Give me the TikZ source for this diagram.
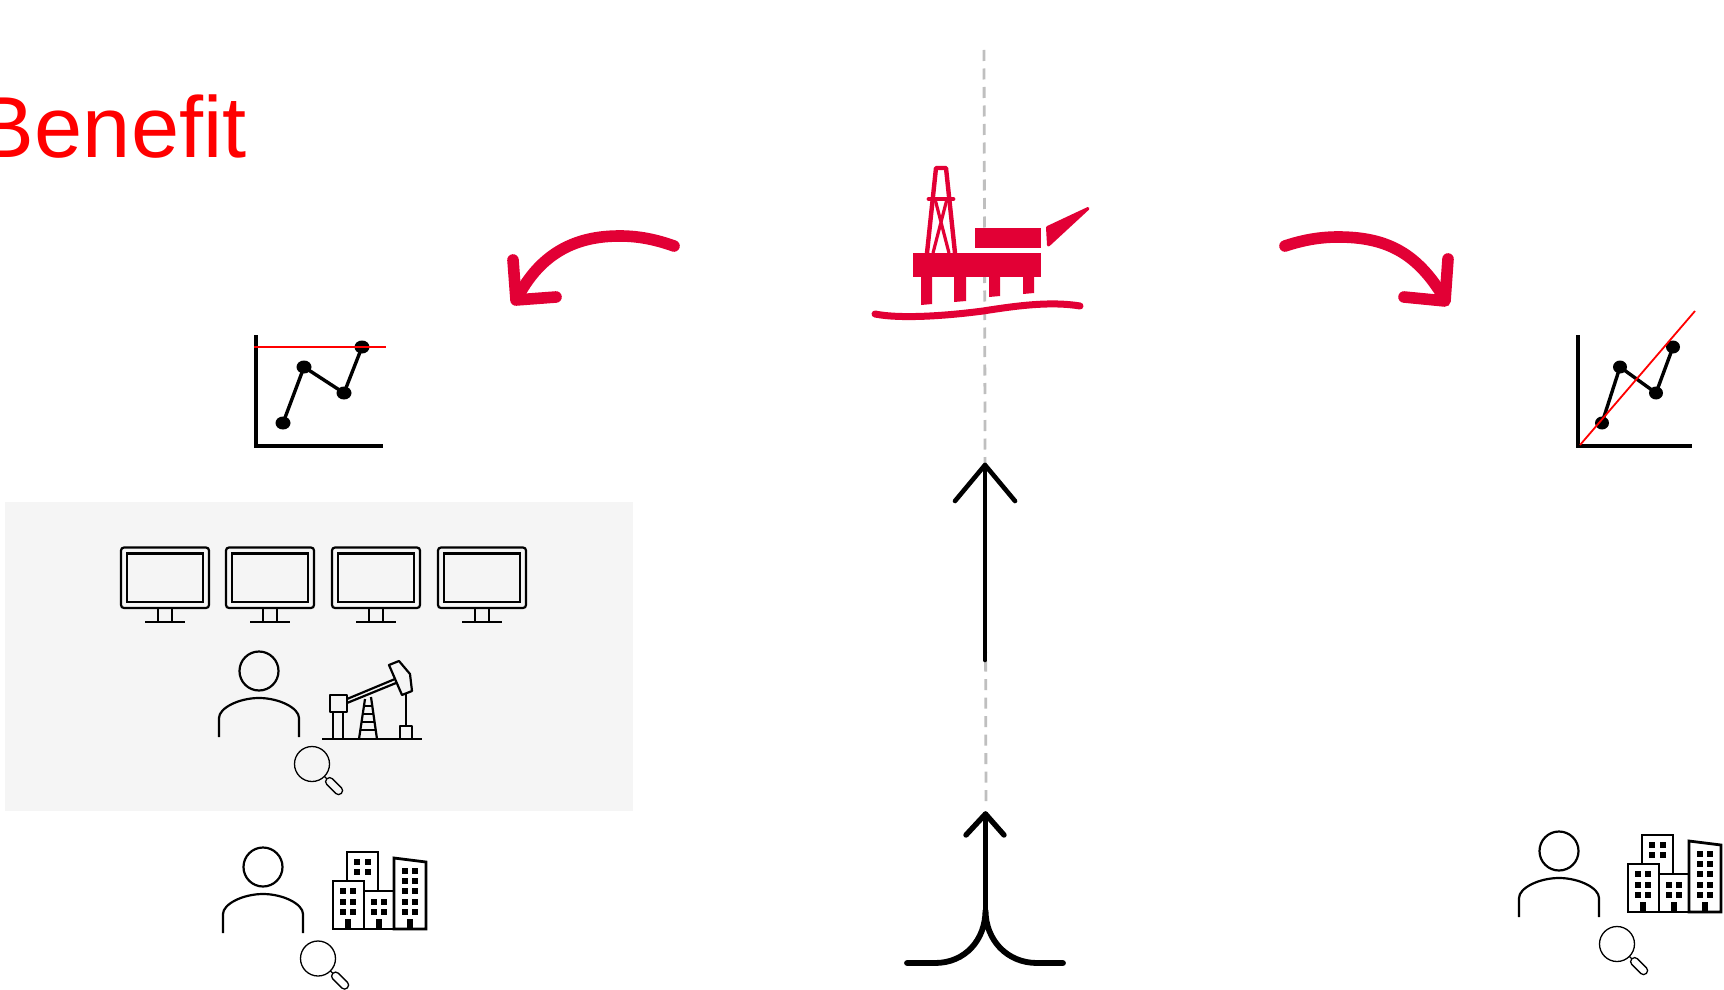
\documentclass[tikz,border=0pt]{standalone}
\usepackage{fontspec}
\setmainfont{Liberation Sans}
\definecolor{rigred}{HTML}{E20035}
\definecolor{panelgrey}{HTML}{F5F5F5}
\definecolor{dashgrey}{HTML}{BFBFBF}
\tikzset{
  ink/.style={line width=1.1pt,black},
  person/.pic={
    \draw[ink] (0,0) circle (19.5);
    \draw[ink] (-40,66) -- (-40,47) .. controls (-40,37) and (-20,27) .. (0,27) .. controls (20,27) and (40,37) .. (40,47) -- (40,66);
  },
  magnifier/.pic={
    \draw[line width=.65pt] (0,0) circle (17.5);
    \begin{scope}[rotate=-45]
      \draw[line width=.65pt] (17.5,0) -- (21,0);
      \draw[line width=.65pt,rounded corners=1.9pt] (21,-4) rectangle (41.5,4);
    \end{scope}
  },
  city/.pic={
    \draw[line width=1.4pt,line join=miter] (14,-48) -- (14,-77) -- (45,-77) -- (45,-38);
    \draw[line width=1.4pt,line join=miter] (0,0) rectangle (31,-48);
    \draw[line width=1.4pt,line join=miter] (31,0) rectangle (61,-38);
    \draw[line width=1.4pt,line join=miter] (61,0) -- (61,-71) -- (93,-67) -- (93,0) -- cycle;
    \foreach \wx/\wy in {10/-38,20/-38,10/-27,20/-27,10/-17,20/-17,
                         24/-67,35/-67,24/-57,35/-57,
                         41/-27,51/-27,41/-17,51/-17,
                         72/-58,82/-58,72/-48,82/-48,72/-38,82/-38,72/-27,82/-27,72/-17,82/-17}
      \fill (\wx-3,\wy-3) rectangle (\wx+3,\wy+3);
    \foreach \wx in {15,46,77}
      \fill (\wx-3,-10) rectangle (\wx+3,0);
  },
  monitor/.pic={
    \draw[ink,rounded corners=1.5pt] (-44,0.5) rectangle (44,61);
    \draw[ink] (-38,6.5) rectangle (38,55);
    \draw[ink] (-7,61) -- (-7,75);
    \draw[ink] (7,61) -- (7,75);
    \draw[ink] (-20,75) -- (20,75);
  }
}
\begin{document}
\begin{tikzpicture}[x=0.5pt,y=-0.5pt]
\useasboundingbox (0,0) rectangle (1724,990);
\fill[white] (0,0) rectangle (1724,990);
\fill[panelgrey] (5,502) rectangle (633,811);

% title
\node[anchor=base east,inner sep=0pt,text=red,font=\fontsize{43.3pt}{50pt}\selectfont] (title) at (247,157) {Benefit};

% centre dashed axis
\coordinate (axistop) at (984,50);
\coordinate (axisbot) at (986,808);
\draw[dashgrey,line width=1.4pt,dash pattern=on 5.5pt off 3.75pt] (axistop) -- (axisbot);

% rig
\begin{scope}[rigred]
  \fill (913,253) rectangle (1041,277);
  \fill (975,228) rectangle (1041,248);
  \filldraw[line join=round,line width=1.5pt] (1047.5,227.5) -- (1088,208.5) -- (1048.5,245) -- cycle;
  \fill (921,277) -- (932,277) -- (932,304) -- (921,305) -- cycle;
  \fill (954,277) -- (966,277) -- (966,301) -- (954,302) -- cycle;
  \fill (989,277) -- (1000,277) -- (1000,296) -- (989,297) -- cycle;
  \fill (1023,277) -- (1034,277) -- (1034,293) -- (1023,294) -- cycle;
  \draw[line width=2.2pt,line join=round] (927,253) -- (936,168) -- (946,168) -- (955,253);
  \draw[line width=1.6pt] (933,253) -- (947,199) (949,253) -- (935,199);
  \draw[line width=2.4pt,line cap=round] (929,199) -- (953,199);
  \draw[line width=3.5pt,line cap=round] (875,314) .. controls (900,319) and (945,316) .. (983,311) .. controls (1015,306) and (1050,301) .. (1080,306);
\end{scope}

% red curved arrows
\begin{scope}[rigred,line width=5.8pt,line cap=round,line join=round]
  \coordinate (lefttail) at (674,246);
  \coordinate (lefttip) at (516,300);
  \draw (lefttail) .. controls (657,240) and (640,236) .. (620,236) .. controls (590,236) and (548,243) .. (520,293);
  \draw (513,260) -- (lefttip) -- (556,297);
  \coordinate (righttail) at (1285,246);
  \coordinate (righttip) at (1445,301);
  \draw (righttail) .. controls (1303,240) and (1320,237) .. (1338,237) .. controls (1385,237) and (1415,252) .. (1441,293);
  \draw (1448,259) -- (righttip) -- (1404,297);
\end{scope}

% left chart
\draw[line width=1.7pt,line join=miter] (256,335) -- (256,446) -- (383,446);
\draw[line width=1.7pt] (283,423) -- (304,367) -- (344,393) -- (362,347);
\foreach \px/\py in {283/423,304/367,344/393,362/347}
  \fill (\px,\py) ellipse (7.5 and 6.5);
\draw[red,line width=.9pt] (254,347) -- (386,347);

% right chart
\draw[line width=1.7pt,line join=miter] (1578,335) -- (1578,446) -- (1692,446);
\draw[line width=1.7pt] (1602,423) -- (1620,367) -- (1656,393) -- (1673,347);
\foreach \px/\py in {1602/423,1620/367,1656/393,1673/347}
  \fill (\px,\py) ellipse (7 and 6.5);
\draw[red,line width=.9pt] (1580,445) -- (1695,311);

% monitors
\pic at (165,547) {monitor};
\pic at (270,547) {monitor};
\pic at (376,547) {monitor};
\pic at (482,547) {monitor};

% operator and pump jack
\pic at (259,671) {person};
\pic at (312,764) {magnifier};
\begin{scope}[ink,line join=round]
  \draw (322,739) -- (422,739);
  \draw (333,712) -- (333,739) (343,712) -- (343,739);
  \draw (330,695) rectangle (347,712);
  \draw (347,699) -- (395,679) (347,703) -- (396,683);
  \draw (389,665) -- (399,661) -- (410,674) -- (412,691) -- (402,695) -- cycle;
  \draw (406,693) -- (406,727);
  \draw (400,726) rectangle (412,739);
  \draw (365,699) -- (359,739) (371,697) -- (377,739);
  \draw (364,706) -- (372,706) (363,714) -- (373,714) (362,722) -- (374,722) (361,730) -- (376,730);
\end{scope}

% bottom left client
\pic at (263,867) {person};
\pic at (318,958.5) {magnifier};
\pic at (333,929) {city};

% bottom right client
\pic at (1559,851) {person};
\pic at (1617,944) {magnifier};
\pic at (1628,912) {city};

% upward arrow
\coordinate (uptail) at (985,660);
\coordinate (uptip) at (985,465);
\draw[line width=2.3pt,line cap=round] (uptail) -- (uptip);
\draw[line width=2.3pt,line cap=round,line join=round] (955,501) -- (uptip) -- (1015,501);

% merging arrow
\coordinate (mergetip) at (985.5,814);
\coordinate (mergejoin) at (985.5,910);
\draw[line width=2.7pt,line cap=round] (mergejoin) -- (mergetip);
\draw[line width=2.7pt,line cap=round,line join=round] (966,835) -- (mergetip) -- (1004,835);
\draw[line width=2.9pt,line cap=round] (907,963) -- (935,963) .. controls (965,963) and (985.5,940) .. (mergejoin) .. controls (985.5,940) and (1007,963) .. (1037,963) -- (1063,963);
\end{tikzpicture}
\end{document}
